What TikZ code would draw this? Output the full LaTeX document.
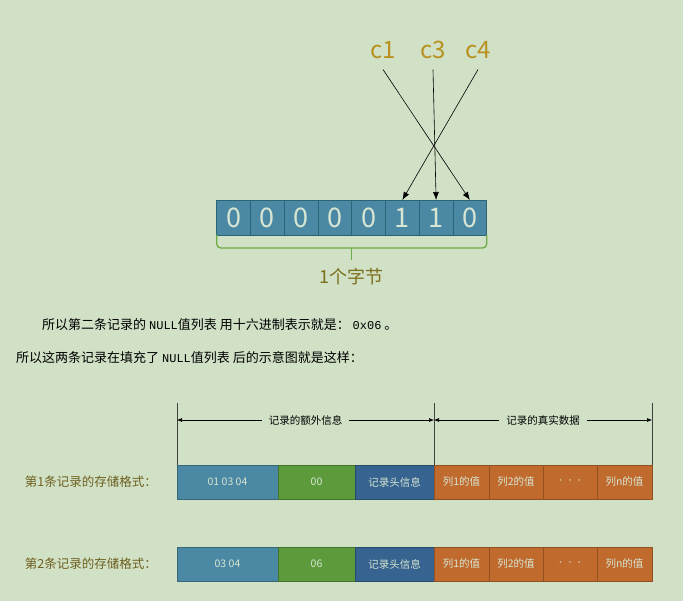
\documentclass[tikz,border=0pt]{standalone}
\usepackage{fontspec}
\setmainfont{Noto Sans CJK SC}
\newfontfamily\monofont{Liberation Mono}
\usetikzlibrary{positioning, arrows.meta, calc}

\definecolor{bg}{HTML}{D0E1C6}
\definecolor{bitfill}{HTML}{4A88A4}
\definecolor{bitline}{HTML}{2C6377}
\definecolor{lighttext}{HTML}{D6E6D2}
\definecolor{cgold}{HTML}{B8901E}
\definecolor{bracegreen}{HTML}{6EAA45}
\definecolor{olive}{HTML}{6E5F1E}
\definecolor{cblue}{HTML}{4A88A3}
\definecolor{cgreen}{HTML}{5C9A3B}
\definecolor{cdark}{HTML}{36638F}
\definecolor{corange}{HTML}{C06A2E}

\tikzset{
  bit/.style = {rectangle, draw=bitline, fill=bitfill, line width=0.8pt,
    minimum width=33.75pt, minimum height=35pt, inner sep=0pt, outer sep=0pt,
    text=lighttext, font=\fontsize{27}{27}\selectfont},
  clabel/.style = {anchor=base, inner xsep=2pt, inner ysep=10pt, text=cgold,
    font=\fontsize{24}{24}\selectfont},
  bracket/.style = {draw=bracegreen, line width=1.3pt, rounded corners=4pt},
  para/.style = {anchor=west, inner sep=0pt, font=\fontsize{13}{13}\selectfont},
  cell/.style = {rectangle, fill=#1, draw=#1!75!black, line width=0.6pt,
    minimum height=34pt, inner sep=0pt, outer sep=0pt, text=lighttext,
    font=\fontsize{10.5}{10.5}\selectfont},
  rowlabel/.style = {text=olive, inner sep=0pt, font=\fontsize{12.5}{12.5}\selectfont},
  vline/.style = {draw=black!75, line width=0.8pt},
  hlabel/.style = {fill=bg, inner xsep=7pt, font=\fontsize{10.5}{10.5}\selectfont},
  dots/.style = {font=\fontsize{8}{8}\selectfont, text=lighttext!80!corange}
}

\begin{document}
\begin{tikzpicture}[x=1pt, y=-1pt, node distance=0pt]
  \useasboundingbox[fill=bg] (0,0) rectangle (683,601);

  % one byte of the NULL list
  \begin{scope}[node distance=33.75pt, on grid]
    \node[bit] (b0) at (233.6,217.5) {0};
    \node[bit, right=of b0] (b1) {0};
    \node[bit, right=of b1] (b2) {0};
    \node[bit, right=of b2] (b3) {0};
    \node[bit, right=of b3] (b4) {0};
    \node[bit, right=of b4] (b5) {1};
    \node[bit, right=of b5] (b6) {1};
    \node[bit, right=of b6] (b7) {0};
  \end{scope}

  \node[clabel] (c1) at (383,59) {c1};
  \node[clabel] (c3) at (433,59) {c3};
  \node[clabel] (c4) at (478,59) {c4};
  \path[-{Latex[length=8pt,width=6pt]}, line width=0.6pt]
    (c1.south) edge (b7.north)
    (c3.south) edge (b6.north)
    (c4.south) edge (b5.north);

  \coordinate (bm) at ($(b3.south east)+(0,13)$);
  \coordinate (bt) at ($(bm)+(0,12)$);
  \draw[bracket] (b0.south west) |- (bm) -| (b7.south east);
  \draw[bracket] (bm) -- (bt);
  \node[below=5pt of bt, text=olive!90!yellow, font=\fontsize{18}{18}\selectfont] (byte) {1个字节};

  % text lines
  \node[para] (p1) at (42,325) {所以第二条记录的 {\monofont\fontsize{12}{12}\selectfont NULL}值列表 用十六进制表示就是： {\monofont\fontsize{12}{12}\selectfont 0x06} 。};
  \node[para] (p2) at (16,358) {所以这两条记录在填充了 {\monofont\fontsize{12}{12}\selectfont NULL}值列表 后的示意图就是这样：};

  % record 1
  \node[cell=cblue, minimum width=101pt, anchor=north west] (r1a) at (177,465) {01 03 04};
  \node[cell=cgreen, minimum width=77pt, right=of r1a] (r1b) {00};
  \node[cell=cdark, minimum width=79pt, right=of r1b] (r1c) {记录头信息};
  \node[cell=corange, minimum width=55pt, right=of r1c] (r1d) {列1的值};
  \node[cell=corange, minimum width=54pt, right=of r1d] (r1e) {列2的值};
  \node[cell=corange, minimum width=54pt, right=of r1e, dots] (r1f) {·\,·\,·};
  \node[cell=corange, minimum width=55pt, right=of r1f] (r1g) {列n的值};
  \node[rowlabel, left=20pt of r1a] (l1) {第1条记录的存储格式：};

  % record 2
  \node[cell=cblue, minimum width=101pt, anchor=north west] (r2a) at (177,547) {03 04};
  \node[cell=cgreen, minimum width=77pt, right=of r2a] (r2b) {06};
  \node[cell=cdark, minimum width=79pt, right=of r2b] (r2c) {记录头信息};
  \node[cell=corange, minimum width=55pt, right=of r2c] (r2d) {列1的值};
  \node[cell=corange, minimum width=54pt, right=of r2d] (r2e) {列2的值};
  \node[cell=corange, minimum width=54pt, right=of r2e, dots] (r2f) {·\,·\,·};
  \node[cell=corange, minimum width=55pt, right=of r2f] (r2g) {列n的值};
  \node[rowlabel, left=20pt of r2a] (l2) {第2条记录的存储格式：};

  % header
  \coordinate (v1) at (r1a.north west |- 0,403);
  \coordinate (v2) at (r1d.north west |- 0,403);
  \coordinate (v3) at (r1g.north east |- 0,403);
  \draw[vline] (v1) -- (r1a.north west);
  \draw[vline] (v2) -- (r1d.north west);
  \draw[vline] (v3) -- (r1g.north east);
  \coordinate (h1) at ($(v1)+(0,17)$);
  \coordinate (h2) at ($(v2)+(0,17)$);
  \coordinate (h3) at ($(v3)+(0,17)$);
  \draw[{Latex[length=5pt,width=4pt]}-{Latex[length=5pt,width=4pt]}, line width=0.6pt]
    (h1) -- node[hlabel] (x1) {记录的额外信息} (h2);
  \draw[{Latex[length=5pt,width=4pt]}-{Latex[length=5pt,width=4pt]}, line width=0.6pt]
    (h2) -- node[hlabel] (x2) {记录的真实数据} (h3);
\end{tikzpicture}
\end{document}
